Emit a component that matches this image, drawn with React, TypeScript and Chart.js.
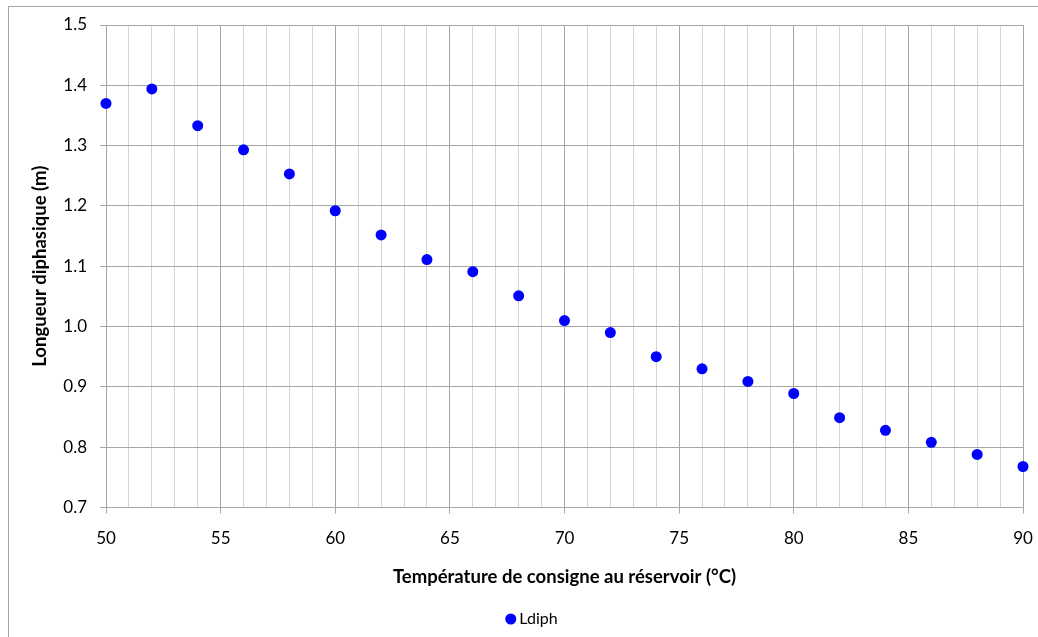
import React, { useEffect, useRef } from "react";
import { Chart, registerables } from "chart.js";

Chart.register(...registerables);

const temperatures = [50, 52, 54, 56, 58, 60, 62, 64, 66, 68, 70, 72, 74, 76, 78, 80, 82, 84, 86, 88, 90];
const ldiph = [1.37, 1.394, 1.333, 1.293, 1.253, 1.192, 1.152, 1.111, 1.091, 1.051, 1.01, 0.99, 0.95, 0.93, 0.909, 0.889, 0.849, 0.828, 0.808, 0.788, 0.768];
const seriesName = "Ldiph";
const xTitle = "Température de consigne au réservoir (°C)";
const yTitle = "Longueur diphasique (m)";

const FONT = "Lato, 'Liberation Sans', sans-serif";

export default function App() {
  const ref = useRef<HTMLCanvasElement | null>(null);
  useEffect(() => {
    if (!ref.current) return;
    const frame = {
      id: "frame",
      beforeDraw(chart: any) {
        const c = chart.ctx;
        c.save();
        c.fillStyle = "#ffffff";
        c.fillRect(0, 0, chart.width, chart.height);
        c.strokeStyle = "#a6a6a6";
        c.lineWidth = 1;
        c.strokeRect(8.5, 6.5, 1200, 800);
        c.restore();
      },
      afterDraw(chart: any) {
        const c = chart.ctx;
        const ds = chart.data.datasets[0];
        c.save();
        c.font = `16px ${FONT}`;
        const tw = c.measureText(seriesName).width;
        const r = 5.5;
        const gap = 3;
        const total = r * 2 + gap + tw;
        const cx = chart.width / 2 + 12.5 - total / 2;
        const cy = 619;
        c.fillStyle = ds.backgroundColor;
        c.beginPath();
        c.arc(cx + r, cy, r, 0, Math.PI * 2);
        c.fill();
        c.fillStyle = "#000000";
        c.textBaseline = "middle";
        c.textAlign = "left";
        c.fillText(seriesName, cx + 2 * r + gap, cy);
        c.restore();
      },
    };
    const chart = new Chart(ref.current, {
      type: "scatter",
      data: {
        datasets: [
          {
            label: seriesName,
            data: temperatures.map((t, i) => ({ x: t, y: ldiph[i] })),
            backgroundColor: "#0000ff",
            borderColor: "#0000ff",
            borderWidth: 0,
            pointRadius: 5.5,
            pointHoverRadius: 5.5,
            showLine: false,
            clip: false as any,
          },
        ],
      },
      options: {
        animation: false,
        responsive: false,
        maintainAspectRatio: false,
        layout: { padding: { left: 0, top: 25, right: 15, bottom: 37 } },
        plugins: {
          legend: { display: false },
          tooltip: { enabled: false },
        },
        scales: {
          x: {
            type: "linear",
            min: 50,
            max: 90,
            afterFit(scale: any) {
              scale.height = 92.5;
              scale.paddingRight = 0;
              scale.paddingLeft = 0;
            },
            ticks: {
              stepSize: 1,
              autoSkip: false,
              maxRotation: 0,
              padding: 15,
              color: "#000000",
              font: { family: FONT, size: 17 },
              callback: (v: any) => (Number(v) % 5 === 0 ? String(v) : ""),
            },
            grid: {
              color: (ctx: any) => (ctx.tick && ctx.tick.value % 5 === 0 ? "#a6a6a6" : "#d4d4d4"),
              tickColor: (ctx: any) => (ctx.tick && ctx.tick.value % 5 === 0 ? "#a6a6a6" : "rgba(0,0,0,0)"),
              tickLength: 6,
              lineWidth: 1,
            },
            border: { color: "#a6a6a6" },
            title: {
              display: true,
              text: xTitle,
              color: "#000000",
              font: { family: FONT, size: 18.5, weight: "bold" },
              padding: { top: 0, bottom: 12 },
            },
          },
          y: {
            type: "linear",
            min: 0.7,
            max: 1.5,
            afterFit(scale: any) {
              scale.width = 106;
            },
            ticks: {
              stepSize: 0.1,
              padding: 13,
              color: "#000000",
              font: { family: FONT, size: 17 },
              callback: (v: any) => Number(v).toFixed(1),
            },
            grid: {
              color: "#a6a6a6",
              tickColor: "#a6a6a6",
              tickLength: 6,
              lineWidth: 1,
            },
            border: { color: "#a6a6a6" },
            title: {
              display: true,
              text: yTitle,
              color: "#000000",
              font: { family: FONT, size: 18.5, weight: "bold" },
              padding: { top: 29, bottom: 0 },
            },
          },
        },
      },
      plugins: [frame],
    });
    return () => chart.destroy();
  }, []);
  return (
    <div style={{ position: "absolute", left: 0, top: 0, width: 1038, height: 637 }}>
      <canvas ref={ref} width={1038} height={637} style={{ display: "block", width: 1038, height: 637 }} />
    </div>
  );
}
